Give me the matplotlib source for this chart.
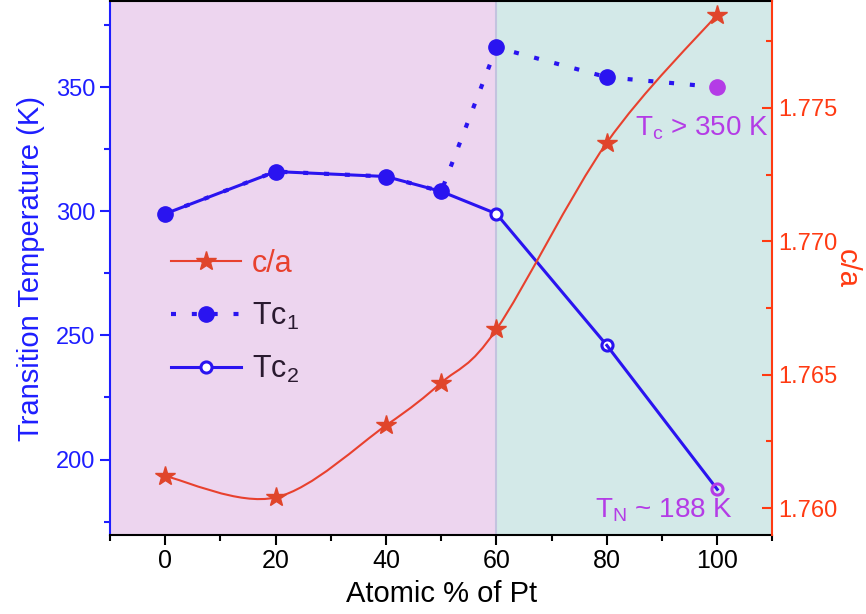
import numpy as np
import matplotlib
matplotlib.use("Agg")
import matplotlib.pyplot as plt
from matplotlib.path import Path
from matplotlib.patches import PathPatch
from matplotlib.lines import Line2D

plt.rcParams['font.family'] = ['Liberation Sans', 'DejaVu Sans']
plt.rcParams['mathtext.fontset'] = 'custom'
plt.rcParams['mathtext.rm'] = 'Liberation Sans'
plt.rcParams['mathtext.it'] = 'Liberation Sans:italic'

# Data
pt = [0, 20, 40, 50, 60, 80, 100]
tc1 = [299, 316, 314, 308, 366, 354, 350]
tc2 = [299, 316, 314, 308, 299, 246, 188]
ca = [1.7612, 1.7604, 1.7631, 1.7647, 1.7667, 1.7737, 1.7785]

x_ticks = [0, 20, 40, 60, 80, 100]
t_ticks = [200, 250, 300, 350]
ca_ticks = [1.760, 1.765, 1.770, 1.775]

BLUE_AX = '#1E1EFF'
BLUE = '#2A14F0'
RED_AX = '#FF3A12'
RED = '#E8412E'
STAR = '#E0452B'
MAGENTA = '#B43CE6'
PINK_BG = '#EDD5EF'
TEAL_BG = '#D3E9E8'


def smooth_path(xs, ys):
    # Catmull-Rom style bezier through the points, drawn by matplotlib's Path
    p = np.column_stack([xs, ys]).astype(float)
    n = len(p)
    verts = [p[0]]
    codes = [Path.MOVETO]
    for i in range(n - 1):
        p0 = p[i - 1] if i > 0 else p[i]
        p3 = p[i + 2] if i + 2 < n else p[i + 1]
        c1 = p[i] + (p[i + 1] - p0) / 6
        c2 = p[i + 1] - (p3 - p[i]) / 6
        verts += [c1, c2, p[i + 1]]
        codes += [Path.CURVE4] * 3
    return Path(verts, codes)


fig = plt.figure(figsize=(8.66, 6.14), dpi=100)
ax = fig.add_axes([0.127, 0.129, 0.765, 0.869])
ax2 = ax.twinx()

ax.set_xlim(-10, 110)
ax.set_ylim(169.7, 384.6)
ax2.set_ylim(1.759, 1.779)

# shaded regions
ax.axvspan(-10, 60, color=PINK_BG, zorder=0, lw=0)
ax.axvspan(60, 110, color=TEAL_BG, zorder=0, lw=0)
ax.axvline(60, color='#C3C3DF', lw=1.5, zorder=0.5)

# Tc2: solid line, open circles
ax.plot(pt[:-1], tc2[:-1], '-o', color=BLUE, lw=2.2, ms=8,
        mfc='white', mec=BLUE, mew=2.2, zorder=3)
ax.plot(pt[-2:], tc2[-2:], '-', color=BLUE, lw=2.2, zorder=3)
ax.plot(pt[-1], tc2[-1], 'o', ms=8, mfc='none', mec=MAGENTA, mew=2.2, zorder=4)

# Tc1: dotted line, filled circles
ax.plot(pt[:-1], tc1[:-1], linestyle=(0, (1.2, 3.8)), marker='o',
        color=BLUE, lw=3, ms=11, zorder=4)
ax.plot(pt[-2:], tc1[-2:], linestyle=(0, (1.2, 3.8)), color=BLUE, lw=3, zorder=4)
ax.plot(pt[-1], tc1[-1], 'o', ms=11, color=MAGENTA, zorder=5)

# c/a smooth curve with stars
ax2.add_patch(PathPatch(smooth_path(pt, ca), fc='none', ec=RED, lw=1.5, zorder=2))
ax2.plot(pt, ca, linestyle='none', marker='*', ms=15, mfc=STAR, mec=STAR, zorder=3)

# legend
h_ca = Line2D([], [], color=RED, lw=1.5, marker='*', ms=15, mfc=STAR, mec=STAR)
h_t1 = Line2D([], [], color=BLUE, lw=3, linestyle=(0, (1.2, 3.8)), marker='o', ms=11)
h_t2 = Line2D([], [], color=BLUE, lw=2.2, marker='o', ms=8, mfc='white', mec=BLUE, mew=2.2)
leg = ax.legend([h_ca, h_t1, h_t2], ['c/a', r'Tc$_\mathregular{1}$', r'Tc$_\mathregular{2}$'],
                loc='upper left', bbox_to_anchor=(0.05, 0.588), frameon=False,
                fontsize=22, handlelength=2.3, labelspacing=0.72, handletextpad=0.35)
for t, c in zip(leg.get_texts(), [RED, '#2A1A30', '#2A1A30']):
    t.set_color(c)
leg.set_zorder(10)

# annotations
ax.text(109.2, 333.3, r'T$_\mathregular{c}$ > 350 K', ha='right', va='center',
        color=MAGENTA, fontsize=20, zorder=6)
ax.text(102.8, 179.5, r'T$_\mathregular{N}$ ~ 188 K', ha='right', va='center',
        color=MAGENTA, fontsize=20, zorder=6)

# axes styling
ax.set_xticks(x_ticks)
ax.set_xticks(np.arange(-10, 111, 10), minor=True)
ax.set_yticks(t_ticks)
ax.set_yticks([175, 225, 275, 325, 375], minor=True)
ax2.set_yticks(ca_ticks)
ax2.set_yticks([1.7625, 1.7675, 1.7725, 1.7775], minor=True)
ax2.set_yticklabels(['%.3f' % v for v in ca_ticks])

ax.tick_params(axis='x', which='major', direction='out', length=7, width=1.5,
               labelsize=18, colors='black')
ax.tick_params(axis='x', which='minor', direction='out', length=4, width=1.5)
ax.tick_params(axis='y', which='major', direction='out', length=7, width=1.5,
               labelsize=17, colors=BLUE_AX)
ax.tick_params(axis='y', which='minor', direction='out', length=4, width=1.5,
               colors=BLUE_AX)
ax2.tick_params(axis='y', which='major', direction='in', length=7, width=1.5,
                labelsize=17, colors=RED_AX, pad=4)
ax2.tick_params(axis='y', which='minor', direction='in', length=4, width=1.5,
                colors=RED_AX)

ax.spines['left'].set_color(BLUE_AX)
ax.spines['left'].set_linewidth(1.5)
ax.spines['bottom'].set_linewidth(1.5)
ax.spines['top'].set_linewidth(1.5)
ax.spines['right'].set_visible(False)
for s in ['left', 'top', 'bottom']:
    ax2.spines[s].set_visible(False)
ax2.spines['right'].set_color(RED_AX)
ax2.spines['right'].set_linewidth(1.5)

ax.set_xlabel('Atomic % of Pt', fontsize=21, labelpad=5)
ax.set_ylabel('Transition Temperature (K)', fontsize=21, color=BLUE_AX, labelpad=8)
ax2.set_ylabel('c/a', fontsize=21, color=RED_AX, rotation=270, labelpad=17)

fig.savefig('out.png', dpi=100)
